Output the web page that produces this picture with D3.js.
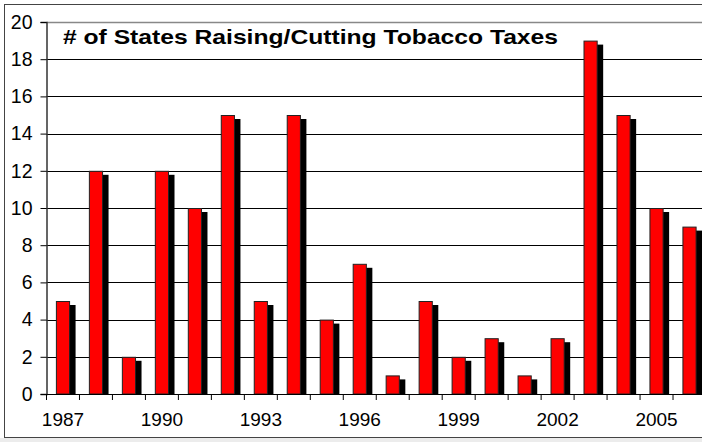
<!DOCTYPE html>
<html>
<head>
<meta charset="utf-8">
<script src="https://cdn.jsdelivr.net/npm/d3@7"></script>
<style>
  html, body { margin: 0; padding: 0; background: #fff; }
  svg { display: block; }
  text { font-family: "Liberation Sans", Arial, sans-serif; }
</style>
</head>
<body>
<svg id="chart" width="702" height="442"></svg>
<script>
const years = [1987,1988,1989,1990,1991,1992,1993,1994,1995,1996,1997,1998,1999,2000,2001,2002,2003,2004,2005,2006];
const values = [5,12,2,12,10,15,5,15,4,7,1,5,2,3,1,3,19,15,10,9];
const yTicks = [0,2,4,6,8,10,12,14,16,18,20];
const labeledYears = [1987,1990,1993,1996,1999,2002,2005];
const title = "# of States Raising/Cutting Tobacco Taxes";

(function () {
const svg = d3.select("#chart");
const W = 702, H = 442;
const mLeft = 46.5, mTop = 22, mBottom = 394, mRight = 706;

// background strip + outer frame
svg.append("rect").attr("x", 0).attr("y", 438).attr("width", W).attr("height", 4).attr("fill", "#ececec");
svg.append("rect").attr("x", 4.5).attr("y", 4.5).attr("width", 710).attr("height", 433)
  .attr("fill", "#fff").attr("stroke", "#444").attr("stroke-width", 1);

const x = d3.scaleBand().domain(years).range([mLeft, mRight]).padding(0);
const y = d3.scaleLinear().domain([0, 20]).range([mBottom, mTop]);

// gridlines
svg.append("g").selectAll("line").data(yTicks.filter(t => t > 0)).join("line")
  .attr("x1", mLeft).attr("x2", W)
  .attr("y1", d => Math.round(y(d)) + 0.5).attr("y2", d => Math.round(y(d)) + 0.5)
  .attr("stroke", d => d === 20 ? "#888" : "#000")
  .attr("stroke-width", d => d === 20 ? 1.5 : 1);

// bars: shadow + red bar
const bw = x.bandwidth() * 0.43;
const g = svg.append("g");
const data = years.map((yr, i) => ({ yr, v: values[i] }));
g.selectAll("rect.shadow").data(data).join("rect").attr("class", "shadow")
  .attr("x", d => x(d.yr) + (x.bandwidth() - bw) / 2 + 5.5)
  .attr("y", d => y(d.v) + 4)
  .attr("width", bw)
  .attr("height", d => mBottom - y(d.v) - 4)
  .attr("fill", "#000");
g.selectAll("rect.bar").data(data).join("rect").attr("class", "bar")
  .attr("x", d => x(d.yr) + (x.bandwidth() - bw) / 2 + 0.5)
  .attr("y", d => y(d.v) + 0.5)
  .attr("width", bw - 1)
  .attr("height", d => mBottom - y(d.v) - 0.5)
  .attr("fill", "#ff0000")
  .attr("stroke", "#222").attr("stroke-width", 1);

// y axis
const yAxis = d3.axisLeft(y).tickValues(yTicks).tickSize(6).tickPadding(8);
const ya = svg.append("g").attr("transform", `translate(${mLeft},0)`).call(yAxis);
ya.select(".domain").attr("stroke", "#333").attr("stroke-width", 1.5);
ya.selectAll(".tick line").attr("stroke", "#000");
ya.selectAll(".tick text").attr("font-size", 19.5).attr("fill", "#000")
  .attr("font-family", "'Liberation Sans', Arial, sans-serif");

// x axis baseline
svg.append("line").attr("x1", mLeft).attr("x2", W).attr("y1", mBottom + 0.5).attr("y2", mBottom + 0.5)
  .attr("stroke", "#000");
// x ticks at band boundaries
const bounds = years.map(yr => x(yr)).concat([mRight]);
svg.append("g").selectAll("line").data(bounds).join("line")
  .attr("x1", d => d).attr("x2", d => d)
  .attr("y1", mBottom).attr("y2", mBottom + 6).attr("stroke", "#000");
// x labels
const xAxis = d3.axisBottom(x).tickValues(labeledYears).tickSize(0).tickPadding(19);
const xa = svg.append("g").attr("transform", `translate(0,${mBottom})`).call(xAxis);
xa.select(".domain").remove();
xa.selectAll(".tick text").attr("font-size", 19).attr("fill", "#000")
  .attr("font-family", "'Liberation Sans', Arial, sans-serif");

// title
svg.append("text").attr("x", 63).attr("y", 44)
  .attr("font-size", 20.5).attr("font-weight", "bold").attr("fill", "#000")
  .attr("textLength", 495).attr("lengthAdjust", "spacingAndGlyphs")
  .text(title);
})();
</script>
</body>
</html>
